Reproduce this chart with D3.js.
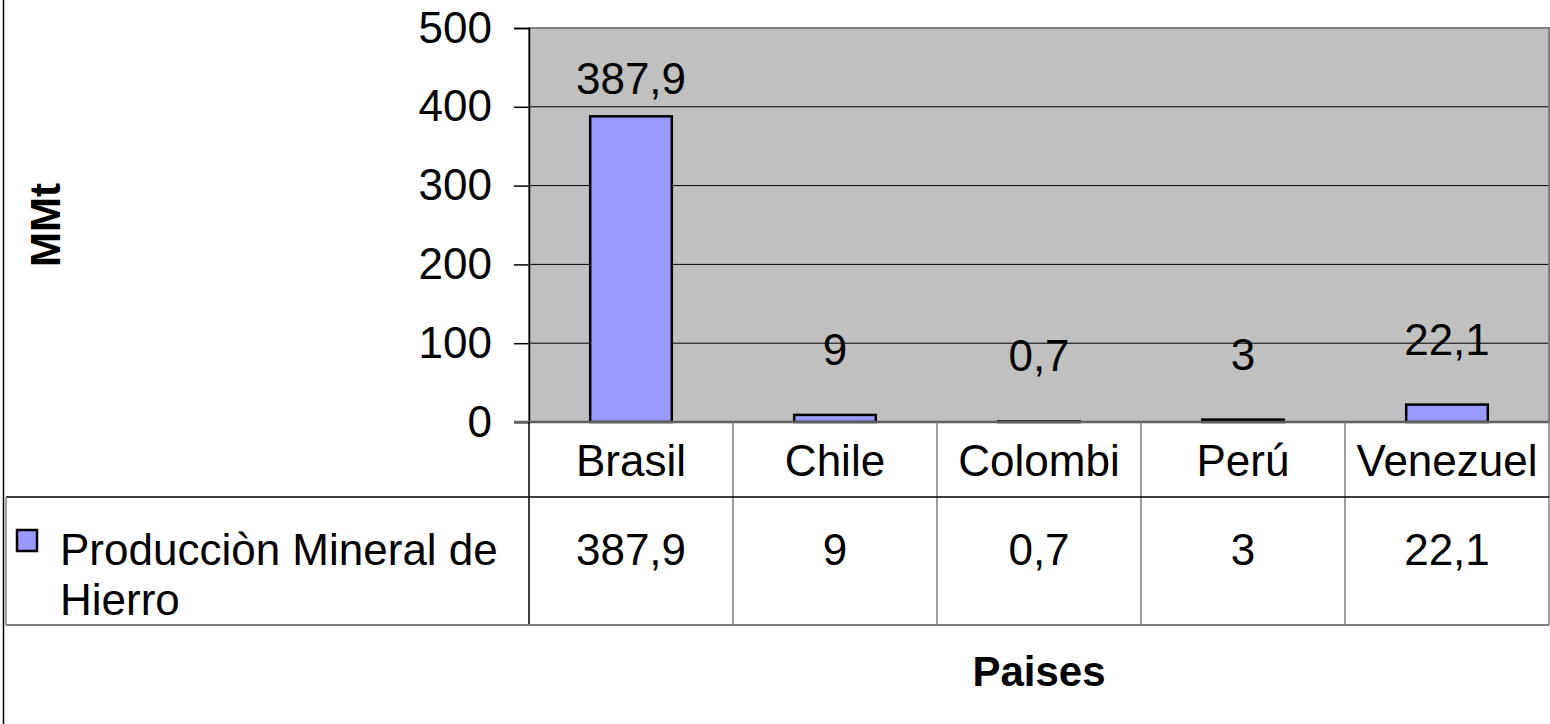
<!DOCTYPE html>
<html>
<head>
<meta charset="utf-8">
<script src="https://cdn.jsdelivr.net/npm/d3@7"></script>
<style>
  body { margin: 0; background: #fff; }
  text { font-family: "Liberation Sans", Arial, sans-serif; }
</style>
</head>
<body>
<svg width="1550" height="724"></svg>
<script>
// data
var paises = ['Brasil', 'Chile', 'Colombi', 'Perú', 'Venezuel'];
var produccion = [387.9, 9, 0.7, 3, 22.1];
var etiquetas = ['387,9', '9', '0,7', '3', '22,1'];
var yTicks = [0, 100, 200, 300, 400, 500];
var serieNombre = ['Producciòn Mineral de', 'Hierro'];

var svg = d3.select('svg');

var plotLeft = 529, plotRight = 1549, plotTop = 28, zero = 422;
var catBottom = 497, legBottom = 625;
var fs = 44;

// scales
var xScale = d3.scaleBand()
  .domain(paises)
  .range([plotLeft, plotRight])
  .paddingInner(0.6)
  .paddingOuter(0.3);

var band = d3.scaleBand().domain(paises).range([plotLeft, plotRight]);

var yScale = d3.scaleLinear()
  .domain([0, 500])
  .range([zero, plotTop]);

// outer chart border (only the left edge shows)
svg.append('line')
  .attr('x1', 3.5).attr('x2', 3.5).attr('y1', 0).attr('y2', 724)
  .attr('stroke', '#000').attr('stroke-width', 1.5);

// plot area
svg.append('rect')
  .attr('x', plotLeft).attr('y', plotTop)
  .attr('width', plotRight - plotLeft).attr('height', zero - plotTop)
  .attr('fill', '#c0c0c0');

// gridlines
svg.append('g').selectAll('line')
  .data(yTicks.filter(d => d > 0 && d < 500))
  .enter().append('line')
  .attr('x1', plotLeft).attr('x2', plotRight)
  .attr('y1', d => yScale(d)).attr('y2', d => yScale(d))
  .attr('stroke', '#000').attr('stroke-width', 1);

svg.append('rect')
  .attr('x', plotLeft).attr('y', plotTop)
  .attr('width', plotRight - plotLeft).attr('height', zero - plotTop)
  .attr('fill', 'none').attr('stroke', '#808080').attr('stroke-width', 2);

// y axis
var yAxis = d3.axisLeft(yScale)
  .tickValues(yTicks)
  .tickSize(15)
  .tickPadding(22);

var ya = svg.append('g')
  .attr('transform', 'translate(' + plotLeft + ',0)')
  .call(yAxis);
ya.select('.domain').attr('stroke', '#000').attr('stroke-width', 1.5);
ya.selectAll('.tick line').attr('stroke', '#000').attr('stroke-width', 1.5);
ya.selectAll('.tick text')
  .attr('font-size', fs).attr('fill', '#000')
  .style('font-family', '"Liberation Sans", Arial, sans-serif');

// bars
svg.append('g').selectAll('rect')
  .data(produccion)
  .enter().append('rect')
  .attr('x', (d, i) => xScale(paises[i]))
  .attr('y', d => yScale(d))
  .attr('width', xScale.bandwidth())
  .attr('height', d => zero - yScale(d))
  .attr('fill', '#9999ff')
  .attr('stroke', '#000').attr('stroke-width', 2.5);

// bar labels
svg.append('g').selectAll('text')
  .data(produccion)
  .enter().append('text')
  .attr('x', (d, i) => band(paises[i]) + band.bandwidth() / 2)
  .attr('y', d => d > 300 ? yScale(d) - 22 : yScale(d) - 50)
  .attr('text-anchor', 'middle')
  .attr('font-size', fs)
  .text((d, i) => etiquetas[i]);

// zero line
svg.append('line')
  .attr('x1', plotLeft - 15).attr('x2', plotRight)
  .attr('y1', zero).attr('y2', zero)
  .attr('stroke', '#606060').attr('stroke-width', 2.5);

// data table
var tbl = svg.append('g');
tbl.selectAll('line.div')
  .data(paises.slice(1).concat(['__end']))
  .enter().append('line')
  .attr('x1', d => d === '__end' ? plotRight : band(d))
  .attr('x2', d => d === '__end' ? plotRight : band(d))
  .attr('y1', zero).attr('y2', legBottom)
  .attr('stroke', '#808080').attr('stroke-width', 1.5);

tbl.append('line')
  .attr('x1', plotLeft).attr('x2', plotLeft).attr('y1', zero).attr('y2', legBottom)
  .attr('stroke', '#000').attr('stroke-width', 1.5);
tbl.append('line')
  .attr('x1', 6).attr('x2', plotRight).attr('y1', catBottom).attr('y2', catBottom)
  .attr('stroke', '#000').attr('stroke-width', 1.5);
tbl.append('line')
  .attr('x1', 6).attr('x2', plotRight).attr('y1', legBottom).attr('y2', legBottom)
  .attr('stroke', '#808080').attr('stroke-width', 2);
tbl.append('line')
  .attr('x1', 6).attr('x2', 6).attr('y1', catBottom).attr('y2', legBottom)
  .attr('stroke', '#808080').attr('stroke-width', 1.5);

tbl.selectAll('text.cat')
  .data(paises)
  .enter().append('text')
  .attr('x', d => band(d) + band.bandwidth() / 2)
  .attr('y', 476)
  .attr('text-anchor', 'middle')
  .attr('font-size', fs)
  .text(d => d);

tbl.selectAll('text.val')
  .data(etiquetas)
  .enter().append('text')
  .attr('x', (d, i) => band(paises[i]) + band.bandwidth() / 2)
  .attr('y', 565)
  .attr('text-anchor', 'middle')
  .attr('font-size', fs)
  .text(d => d);

// legend key
tbl.append('rect')
  .attr('x', 17).attr('y', 530).attr('width', 20).attr('height', 21)
  .attr('fill', '#9999ff').attr('stroke', '#000').attr('stroke-width', 2.5);

tbl.selectAll('text.leg')
  .data(serieNombre)
  .enter().append('text')
  .attr('x', 60)
  .attr('y', (d, i) => 565 + i * 50)
  .attr('font-size', fs)
  .text(d => d);

// axis titles
svg.append('text')
  .attr('transform', 'translate(60,225) rotate(-90)')
  .attr('text-anchor', 'middle')
  .attr('font-size', 42).attr('font-weight', 'bold')
  .text('MMt');

svg.append('text')
  .attr('x', (plotLeft + plotRight) / 2).attr('y', 686)
  .attr('text-anchor', 'middle')
  .attr('font-size', 42).attr('font-weight', 'bold')
  .text('Paises');
</script>
</body>
</html>
